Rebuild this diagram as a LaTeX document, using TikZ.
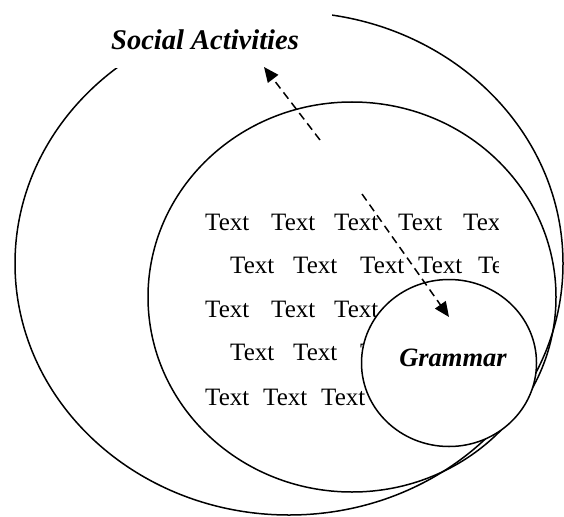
\documentclass[tikz,border=0pt]{standalone}
\usepackage{fontspec}
\setmainfont{Liberation Serif}
\usetikzlibrary{positioning,arrows.meta,shapes.geometric}

\begin{document}
\begin{tikzpicture}[x=1pt,y=-1pt,
  ring/.style={draw=black,ellipse,line width=1.5pt,inner sep=0pt},
  word/.style={anchor=base west,inner sep=0pt,font=\fontsize{25}{30}\selectfont},
  lab/.style={anchor=base west,inner sep=0pt,font=\fontsize{28.5}{34}\selectfont\bfseries\itshape},
  arr/.style={-{Triangle[length=15pt,width=13pt]},line width=1.5pt,dash pattern=on 8pt off 5pt}]
\useasboundingbox (0,0) rectangle (564,516);
% outer field, cut open by the label
\node[ring,minimum width=548pt,minimum height=503pt] (outer) at (289,263.5) {};
\fill[white] (100,0) rectangle (332,68);
\node[lab] (soc) at (111,50) {Social Activities};
\node[ring,minimum width=408pt,minimum height=390pt] (mid) at (352,297) {};
% filler text, clipped at the box edge
\begin{scope}
\clip (0,0) rectangle (498,516);
\foreach \y/\xs in {230/{205,271,334,398,463},273/{230,293,360,418,478},
    317/{205,271,334},360/{230,293,360},405/{205,263,321}}
  \foreach \x in \xs
    \node[word] (w-\y-\x) at (\x,\y) {Text};
\end{scope}
\node[ring,fill=white,minimum width=175pt,minimum height=167pt] (gram) at (449,363) {};
\node[lab,anchor=base] (gtext) at (453,366) {\fontsize{26.5}{31}\selectfont Grammar};
% arrows
\coordinate (up0) at (320,140);
\coordinate (up1) at (264,67);
\coordinate (dn0) at (362,194);
\coordinate (dn1) at (449,317);
\draw[arr] (up0) -- (up1);
\draw[arr] (dn0) -- (dn1);
\end{tikzpicture}
\end{document}
